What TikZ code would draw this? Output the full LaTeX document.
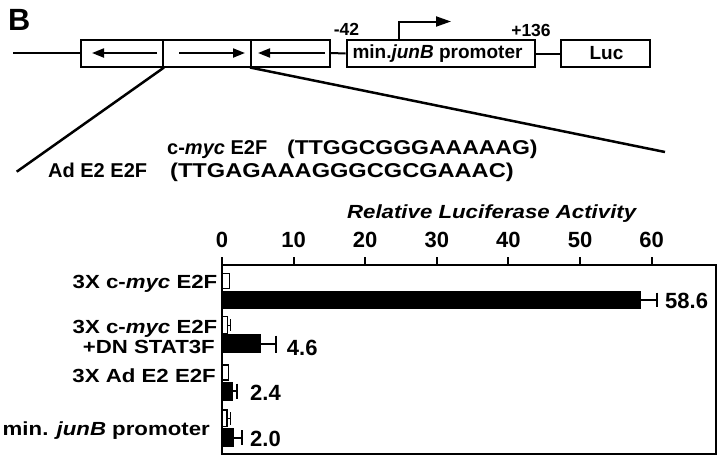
\documentclass[tikz,border=0pt]{standalone}
\usepackage{fontspec}
\setmainfont{Liberation Sans}
\usetikzlibrary{arrows.meta}
\newcommand{\fsz}[1]{\fontsize{#1}{#1}\selectfont}
\newcommand{\wide}[1]{\addfontfeature{FakeStretch=#1}}
\begin{document}
\begin{tikzpicture}[x=1pt,y=-1pt,
  gbox/.style={draw, line width=2pt, minimum height=27pt, inner sep=0pt},
  txt/.style={inner sep=0pt, anchor=base west},
  thick2/.style={line width=2pt},
  inarrow/.style={line width=2pt, -{Triangle[length=12pt,width=9pt]}},
  zoomline/.style={line width=2.5pt},
  wbar/.style={draw, line width=1.5pt, fill=white},
  errbar/.style={line width=2pt}]
\useasboundingbox (0,0) rectangle (720,459);

% ---- construct ----
\node[gbox, minimum width=82.3pt] (b1) at (121.85,53) {};
\node[gbox, minimum width=88pt] (b2) at (207,53) {};
\node[gbox, minimum width=79pt] (b3) at (290.5,53) {};
\node[gbox, minimum width=188.3pt] (prom) at (440.85,53.5) {};
\node[gbox, minimum width=89.3pt] (luc) at (605.35,53.5) {};
\coordinate (lstart) at (13,53);
\draw[thick2] (lstart) -- (b1.west);
\draw[thick2] (b3.east) -- (prom.west);
\draw[thick2] (prom.east) -- (luc.west);

\draw[inarrow] (157,53) -- (92,53);
\draw[inarrow] (179,53) -- (245,53);
\draw[inarrow] (325,53) -- (258,53);

\draw[line width=2pt, -{Triangle[length=15pt,width=10pt]}]
  ([xshift=53.3pt]prom.north west) -- ++(0,-17.5) -- ++(52,0);

\node[txt, font=\bfseries\fsz{30.7}] (B) at (8,30) {B};
\node[inner sep=0pt, anchor=base, font=\bfseries\fsz{17.5}] (m42) at (346.5,35.5) {-42};
\node[inner sep=0pt, anchor=base, font=\bfseries\fsz{17.5}] (p136) at (531,36) {+136};
\node[inner sep=0pt, anchor=base, font=\bfseries\fsz{19}] (promtxt) at (437.5,58.5) {min.\textit{junB} promoter};
\node[inner sep=0pt, anchor=base, font=\bfseries\fsz{19}] (luctxt) at (606.5,59.5) {Luc};

% ---- zoom lines ----
\coordinate (zl) at (16.7,171.7);
\coordinate (zr) at (665,152);
\draw[zoomline] (b1.south east) -- (zl);
\draw[zoomline] (b3.south west) -- (zr);

% ---- sequences ----
\node[txt, font=\bfseries\fsz{20}] (cmyc) at (167,154) {c-\textit{myc} E2F};
\node[txt, font=\bfseries\fsz{20}] (cseq) at (287,154) {\wide{1.15}(TTGGCGGGAAAAAG)};
\node[txt, font=\bfseries\fsz{20}] (ad) at (48,177) {Ad E2 E2F};
\node[txt, font=\bfseries\fsz{20}] (adseq) at (170,177) {\wide{1.18}(TTGAGAAAGGGCGCGAAAC)};

% ---- chart ----
\node[inner sep=0pt, anchor=base, font=\bfseries\itshape\fsz{19}] (title) at (491.7,218.3) {\wide{1.17}Relative Luciferase Activity};

% bars group 1
\fill (222,290.7) rectangle (641,308.5);
\draw[wbar] (222,273.5) rectangle (229.5,288.3);
\draw[errbar] (641,299.6) -- (656.7,299.6) (656.7,292.5) -- (656.7,307);
% group 2
\draw[errbar, line width=1pt] (227.5,325) -- (230,325) (230,319) -- (230,331);
\draw[wbar] (222,316.7) rectangle (227.5,333.3);
\fill (222,334.3) rectangle (261,353.3);
\draw[errbar] (261,343.8) -- (275.7,343.8) (275.7,335.5) -- (275.7,352.5);
% group 3
\draw[wbar] (222,365) rectangle (228.5,380);
\fill (222,381.7) rectangle (233.3,400.7);
\draw[errbar] (233.3,391.2) -- (237.3,391.2) (237.3,383.5) -- (237.3,399);
% group 4
\draw[errbar, line width=1pt] (227,418.3) -- (230,418.3) (230,412) -- (230,425);
\draw[wbar] (222,410) rectangle (227,426.7);
\fill (222,428.3) rectangle (234,446.7);
\draw[errbar] (234,437.5) -- (241.7,437.5) (241.7,430) -- (241.7,445);

\node[draw, line width=2pt, minimum width=494pt, minimum height=189.3pt, inner sep=0pt] (plot) at (469,359.65) {};
\foreach \v in {0,10,...,60} {
  \draw[thick2] ({222+7.16*\v},265) -- ({222+7.16*\v},256.5);
  \node[inner sep=0pt, anchor=base, font=\bfseries\fsz{22}] (t\v) at ({222+7.16*\v},247.5) {\v};
}

% row labels
\node[inner sep=0pt, anchor=base east, font=\bfseries\fsz{19}] (r1) at (217.5,288) {\wide{1.17}3X c-\textit{myc} E2F};
\node[inner sep=0pt, anchor=base east, font=\bfseries\fsz{19}] (r2a) at (217.5,333) {\wide{1.17}3X c-\textit{myc} E2F};
\node[inner sep=0pt, anchor=base east, font=\bfseries\fsz{19}] (r2b) at (215,353) {\wide{1.17}+DN STAT3F};
\node[inner sep=0pt, anchor=base east, font=\bfseries\fsz{19}] (r3) at (216,382) {\wide{1.17}3X Ad E2 E2F};
\node[inner sep=0pt, anchor=base east, font=\bfseries\fsz{19}] (r4) at (210,435) {\wide{1.17}min. \textit{junB} promoter};

% values
\node[txt, font=\bfseries\fsz{22}] (v1) at (665,308.3) {58.6};
\node[txt, font=\bfseries\fsz{22}] (v2) at (286.7,355) {4.6};
\node[txt, font=\bfseries\fsz{22}] (v3) at (250,400) {2.4};
\node[txt, font=\bfseries\fsz{22}] (v4) at (250,446.7) {2.0};
\end{tikzpicture}
\end{document}
